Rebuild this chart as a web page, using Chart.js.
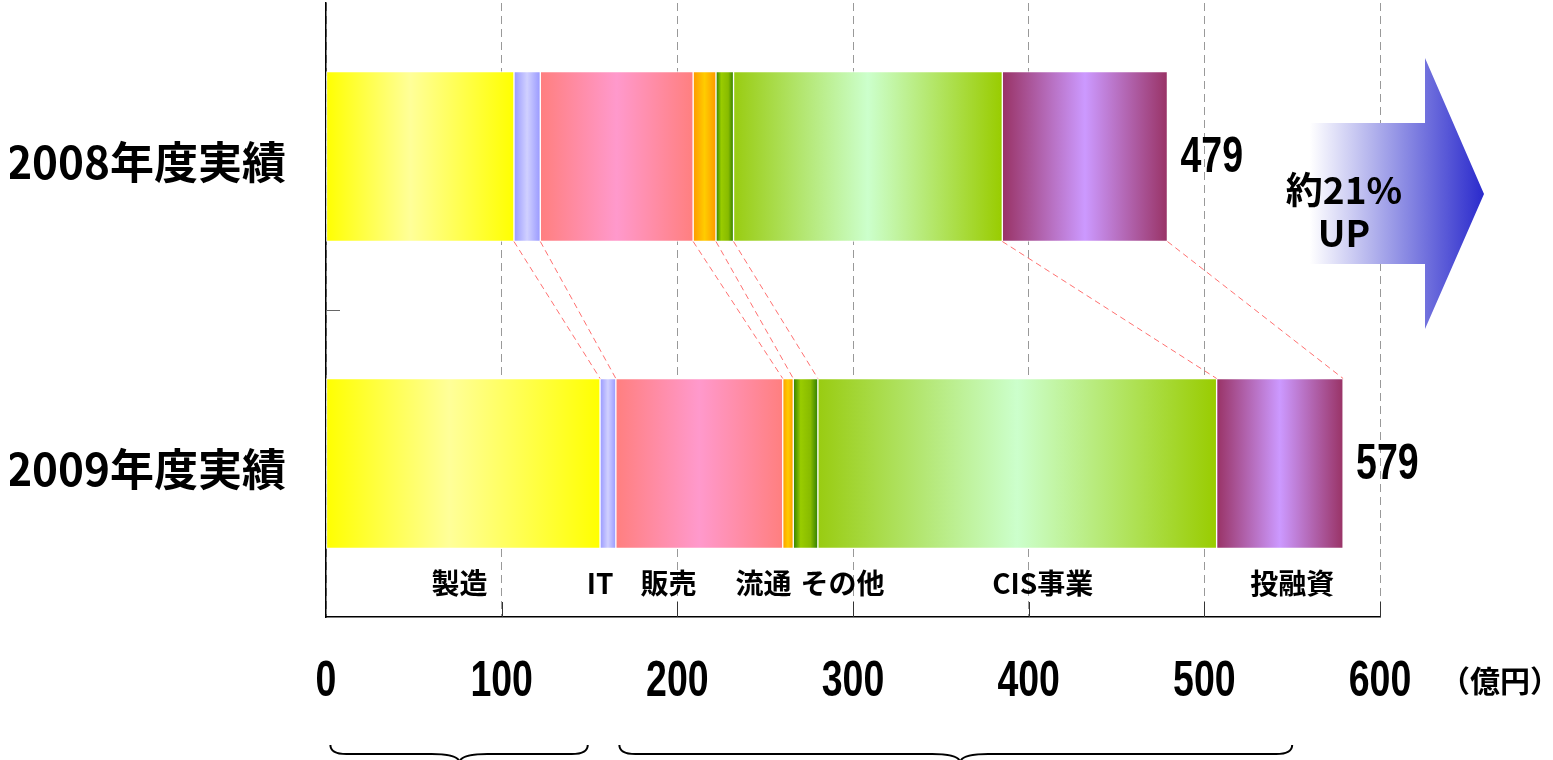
<!DOCTYPE html>
<html lang="ja">
<head>
<meta charset="UTF-8">
<title>事業別実績</title>
<script src="https://cdn.jsdelivr.net/npm/chart.js"></script>
<style>
  html, body { margin: 0; padding: 0; background: #fff; }
  .wrap { width: 1553px; height: 760px; position: relative; }
</style>
</head>
<body>
<div class="wrap"><canvas id="chart"></canvas></div>
<script>
// values (億円)
const years = ['2008年度実績', '2009年度実績'];
const segments = ['製造', 'IT', '販売', '流通', 'その他', 'CIS事業', '投融資'];
const seizo = [107, 156];
const it = [15, 9];
const hanbai = [87, 95];
const ryutsu = [13, 6];
const sonota = [10, 14];
const cis = [153, 227];
const toyushi = [94, 72];
const totals = [479, 579];
const xTicks = [0, 100, 200, 300, 400, 500, 600];
const unitLabel = '（億円）';
const growthLabel = ['約21%', 'UP'];

const series = [seizo, it, hanbai, ryutsu, sonota, cis, toyushi];

// gradient stops per segment (left edge -> centre -> right edge)
const shades = [
  [[0, '#ffff00'], [0.45, '#ffff99'], [1, '#ffff00']],
  [[0, '#9999ff'], [0.5, '#d0d0ff'], [1, '#9999ff']],
  [[0, '#ff7f7f'], [0.5, '#ff99cc'], [1, '#ff7f7f']],
  [[0, '#ff9900'], [0.5, '#ffcc00'], [1, '#ff9900']],
  [[0, '#2f7f00'], [0.3, '#99cc00'], [0.7, '#88bb00'], [1, '#2f7f00']],
  [[0, '#99cc11'], [0.5, '#ccffcc'], [1, '#99cc00']],
  [[0, '#993366'], [0.5, '#cc99ff'], [1, '#993366']]
];

// where the segment names sit along the axis (axis units)
const segLabelAt = [76, 156, 195, 249, 294, 408, 550];

const JP = "'Noto Sans CJK JP', 'Noto Sans', sans-serif";

function fillFor(i) {
  return function (c) {
    const chart = c.chart;
    const x = chart.scales.x;
    if (!x || !chart.chartArea) return shades[i][1][1];
    const row = c.dataIndex;
    let start = 0;
    for (let k = 0; k < i; k++) start += series[k][row];
    const end = start + series[i][row];
    const g = chart.ctx.createLinearGradient(x.getPixelForValue(start), 0, x.getPixelForValue(end), 0);
    shades[i].forEach(s => g.addColorStop(s[0], s[1]));
    return g;
  };
}

// narrow bold digits like the original
function squeezed(ctx, text, x, y, align) {
  ctx.save();
  ctx.font = "bold 50px 'Liberation Sans', Arial, sans-serif";
  ctx.fillStyle = '#000';
  ctx.textBaseline = 'middle';
  ctx.textAlign = align;
  ctx.translate(x, y);
  ctx.scale(0.75, 1);
  ctx.fillText(text, 0, 0);
  ctx.restore();
}

function brace(ctx, x1, xm, x2, y0) {
  const y1 = y0 + 9, y2 = y0 + 18, r = 16;
  ctx.beginPath();
  ctx.moveTo(x1, y0);
  ctx.quadraticCurveTo(x1, y1, x1 + r, y1);
  ctx.lineTo(xm - 28, y1);
  ctx.quadraticCurveTo(xm, y1, xm, y2);
  ctx.quadraticCurveTo(xm, y1, xm + 28, y1);
  ctx.lineTo(x2 - r, y1);
  ctx.quadraticCurveTo(x2, y1, x2, y0);
  ctx.stroke();
}

const extras = {
  id: 'extras',
  afterDraw(chart) {
    const ctx = chart.ctx;
    const x = chart.scales.x, y = chart.scales.y;
    const area = chart.chartArea;
    const last = chart.getDatasetMeta(series.length - 1).data;

    ctx.save();

    // inner ticks on the value axis
    ctx.strokeStyle = '#333';
    ctx.lineWidth = 1;
    xTicks.forEach(v => {
      if (v === 0) return;
      const px = Math.round(x.getPixelForValue(v)) + 0.5;
      ctx.beginPath();
      ctx.moveTo(px, area.bottom - 15);
      ctx.lineTo(px, area.bottom);
      ctx.stroke();
    });

    // small tick between the two years
    const mid = (y.getPixelForValue(0) + y.getPixelForValue(1)) / 2;
    ctx.strokeStyle = '#666';
    ctx.beginPath();
    ctx.moveTo(area.left, Math.round(mid) + 0.5);
    ctx.lineTo(area.left + 14, Math.round(mid) + 0.5);
    ctx.stroke();

    // dashed connectors between the bars
    ctx.strokeStyle = '#ff7070';
    ctx.setLineDash([6, 4]);
    series.forEach((s, i) => {
      const meta = chart.getDatasetMeta(i).data;
      const a = meta[0], b = meta[1];
      ctx.beginPath();
      ctx.moveTo(a.x, a.y + a.height / 2);
      ctx.lineTo(b.x, b.y - b.height / 2);
      ctx.stroke();
    });
    ctx.setLineDash([]);

    // totals
    totals.forEach((t, row) => {
      squeezed(ctx, String(t), last[row].x + 13, last[row].y + 2, 'left');
    });

    // value axis labels
    xTicks.forEach(v => {
      squeezed(ctx, String(v), x.getPixelForValue(v), area.bottom + 65, 'center');
    });

    // unit
    ctx.fillStyle = '#000';
    ctx.font = 'bold 30px ' + JP;
    ctx.textBaseline = 'middle';
    ctx.textAlign = 'left';
    ctx.fillText(unitLabel, 1440, area.bottom + 64);

    // segment names
    ctx.font = 'bold 28px ' + JP;
    ctx.textAlign = 'center';
    segments.forEach((name, i) => {
      ctx.fillText(name, x.getPixelForValue(segLabelAt[i]), area.bottom - 34);
    });

    // growth arrow
    const g = ctx.createLinearGradient(1310, 0, 1484, 0);
    g.addColorStop(0, 'rgba(255,255,255,1)');
    g.addColorStop(1, '#2a2acc');
    ctx.fillStyle = g;
    ctx.beginPath();
    ctx.moveTo(1310, 123);
    ctx.lineTo(1425, 123);
    ctx.lineTo(1425, 58);
    ctx.lineTo(1484, 194);
    ctx.lineTo(1425, 329);
    ctx.lineTo(1425, 264);
    ctx.lineTo(1310, 264);
    ctx.closePath();
    ctx.fill();
    ctx.fillStyle = '#000';
    ctx.font = 'bold 37px ' + JP;
    ctx.fillText(growthLabel[0], 1344, 190);
    ctx.fillText(growthLabel[1], 1344, 233);

    // braces under the axis
    ctx.strokeStyle = '#000';
    ctx.lineWidth = 2;
    brace(ctx, x.getPixelForValue(2.5), x.getPixelForValue(76), x.getPixelForValue(149), 745);
    brace(ctx, x.getPixelForValue(167), x.getPixelForValue(361), x.getPixelForValue(550), 745);

    ctx.restore();
  }
};

new Chart(document.getElementById('chart'), {
  type: 'bar',
  data: {
    labels: years,
    datasets: series.map((vals, i) => ({
      label: segments[i],
      data: vals,
      backgroundColor: fillFor(i),
      borderColor: '#ffffff',
      borderWidth: 1,
      borderSkipped: false,
      barThickness: 170
    }))
  },
  options: {
    indexAxis: 'y',
    responsive: true,
    maintainAspectRatio: false,
    animation: false,
    layout: { padding: { top: 3, right: 173, bottom: 143, left: 10 } },
    plugins: { legend: { display: false }, tooltip: { enabled: false } },
    scales: {
      x: {
        stacked: true,
        min: 0,
        max: 600,
        afterBuildTicks: s => { s.ticks = xTicks.map(v => ({ value: v })); },
        afterFit: s => { s.height = 0; s.paddingLeft = 0; s.paddingRight = 0; },
        ticks: { display: false },
        grid: { color: '#999', lineWidth: 1, drawTicks: false },
        border: { display: true, color: '#000', width: 1.5, dash: [8, 5] }
      },
      y: {
        stacked: true,
        afterFit: s => { s.width = 316; s.paddingTop = 0; s.paddingBottom = 0; },
        grid: { display: false, drawTicks: false },
        border: { display: true, color: '#000', width: 1.5 },
        ticks: {
          color: '#000',
          padding: 40,
          labelOffset: 6,
          font: { family: JP, size: 44, weight: 'bold' }
        }
      }
    }
  },
  plugins: [extras]
});
</script>
</body>
</html>
